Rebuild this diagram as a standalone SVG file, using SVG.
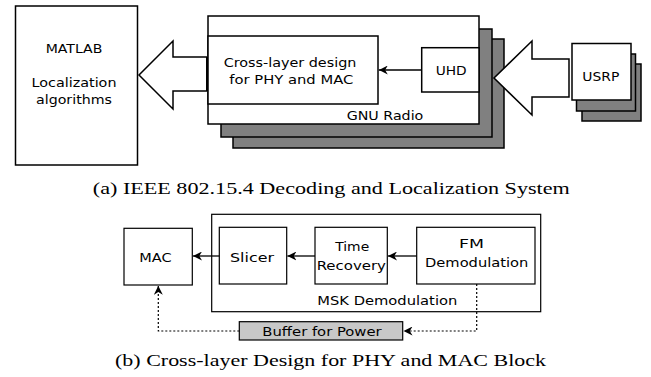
<svg xmlns="http://www.w3.org/2000/svg" width="651" height="377" viewBox="0 0 651 377">
<style>
.box{fill:#fff;stroke:#000;stroke-width:1.5}
.sh{fill:#808080;stroke:#000;stroke-width:1.5}
.bx{fill:#fff;stroke:#000;stroke-width:1.2}
.big{fill:#fff;stroke:#000;stroke-width:1.5;stroke-linejoin:miter}
.t{font-family:"DejaVu Sans",sans-serif;font-size:12.5px;fill:#000;text-anchor:middle}
.cap{font-family:"Liberation Serif",serif;font-size:16px;fill:#000;text-anchor:middle}
.ln{stroke:#000;stroke-width:1.3;fill:none}
.dl{stroke:#000;stroke-width:1.2;fill:none;stroke-dasharray:2,2}
</style>
<defs>
<marker id="ah" viewBox="0 0 10 10" refX="10" refY="5" markerWidth="9" markerHeight="9" markerUnits="userSpaceOnUse" orient="auto">
<path d="M0,0 L10,5 L0,10 L3,5 z" fill="#000"/>
</marker>
</defs>

<g id="matlab">
<rect class="box" x="15.5" y="6" width="122" height="159"/>
<text class="t" x="74" y="53.3" textLength="56.7" lengthAdjust="spacingAndGlyphs">MATLAB</text>
<text class="t" x="74" y="87.3" textLength="85" lengthAdjust="spacingAndGlyphs">Localization</text>
<text class="t" x="74" y="104" textLength="76" lengthAdjust="spacingAndGlyphs">algorithms</text>
</g>

<g id="gnuradio">
<rect class="sh" x="233" y="39" width="271" height="109"/>
<rect class="sh" x="221" y="29" width="271" height="108"/>
<rect class="box" x="208" y="16" width="271" height="108"/>
<text class="t" x="385" y="120" textLength="76.7" lengthAdjust="spacingAndGlyphs">GNU Radio</text>
</g>

<g id="crosslayer">
<rect class="box" x="208" y="36" width="170" height="68"/>
<text class="t" x="290" y="66.7" textLength="132.7" lengthAdjust="spacingAndGlyphs">Cross-layer design</text>
<text class="t" x="291.3" y="84.3" textLength="124" lengthAdjust="spacingAndGlyphs">for PHY and MAC</text>
</g>

<g id="uhd">
<rect class="box" x="421.7" y="47.7" width="57.3" height="44.3"/>
<text class="t" x="451.2" y="75" textLength="31" lengthAdjust="spacingAndGlyphs">UHD</text>
</g>

<g id="usrp">
<rect class="sh" x="582" y="64" width="59" height="57"/>
<rect class="sh" x="576.5" y="54" width="59" height="57"/>
<rect class="box" x="572" y="43.5" width="59" height="56.5"/>
<text class="t" x="600.8" y="81" textLength="37" lengthAdjust="spacingAndGlyphs">USRP</text>
</g>

<g id="mac">
<rect class="bx" x="124" y="228.3" width="68.3" height="56.7"/>
<text class="t" x="155.5" y="262.3" textLength="32.3" lengthAdjust="spacingAndGlyphs">MAC</text>
</g>

<g id="msk">
<rect class="bx" x="211.7" y="214.3" width="329" height="97.4"/>
<text class="t" x="387.3" y="305" textLength="140" lengthAdjust="spacingAndGlyphs">MSK Demodulation</text>
</g>

<g id="slicer">
<rect class="bx" x="219.3" y="227.3" width="67.4" height="56.7"/>
<text class="t" x="252" y="262.3" textLength="44" lengthAdjust="spacingAndGlyphs">Slicer</text>
</g>

<g id="timerecovery">
<rect class="bx" x="315" y="227.3" width="72.3" height="56.7"/>
<text class="t" x="352.2" y="251" textLength="34" lengthAdjust="spacingAndGlyphs">Time</text>
<text class="t" x="351.3" y="270" textLength="69.3" lengthAdjust="spacingAndGlyphs">Recovery</text>
</g>

<g id="fmdemod">
<rect class="bx" x="416.7" y="227.3" width="118.3" height="56.7"/>
<text class="t" x="471.5" y="248.3" textLength="25" lengthAdjust="spacingAndGlyphs">FM</text>
<text class="t" x="476.7" y="267" textLength="103.3" lengthAdjust="spacingAndGlyphs">Demodulation</text>
</g>

<g id="buffer">
<rect x="239.3" y="321.7" width="163.4" height="18.3" fill="#c8c8c8" stroke="#000" stroke-width="1.2"/>
<text class="t" x="322" y="336.3" textLength="119.3" lengthAdjust="spacingAndGlyphs">Buffer for Power</text>
</g>

<g id="connectors">
<path class="big" d="M207,57 L173,57 L173,41 L139,75 L173,109 L173,91 L207,91"/>
<line x1="207" y1="57" x2="207" y2="91" stroke="#000" stroke-width="2"/>
<path class="big" d="M569,59 L532,59 L532,41 L494,78 L532,115 L532,97 L569,97 Z"/>
<line class="ln" x1="421.7" y1="70" x2="378.8" y2="70" marker-end="url(#ah)"/>
<line class="ln" x1="219.3" y1="256" x2="193" y2="256" marker-end="url(#ah)"/>
<line class="ln" x1="315" y1="256" x2="287.4" y2="256" marker-end="url(#ah)"/>
<line class="ln" x1="416.7" y1="256" x2="388" y2="256" marker-end="url(#ah)"/>
<path class="dl" d="M476.7,284 L476.7,331 L403.5,331" marker-end="url(#ah)"/>
<path class="dl" d="M239.3,331 L158.3,331 L158.3,285.8" marker-end="url(#ah)"/>
</g>

<text class="cap" x="331.3" y="193.5" textLength="477" lengthAdjust="spacingAndGlyphs">(a) IEEE 802.15.4 Decoding and Localization System</text>
<text class="cap" x="330.5" y="366" textLength="431" lengthAdjust="spacingAndGlyphs">(b) Cross-layer Design for PHY and MAC Block</text>
</svg>
